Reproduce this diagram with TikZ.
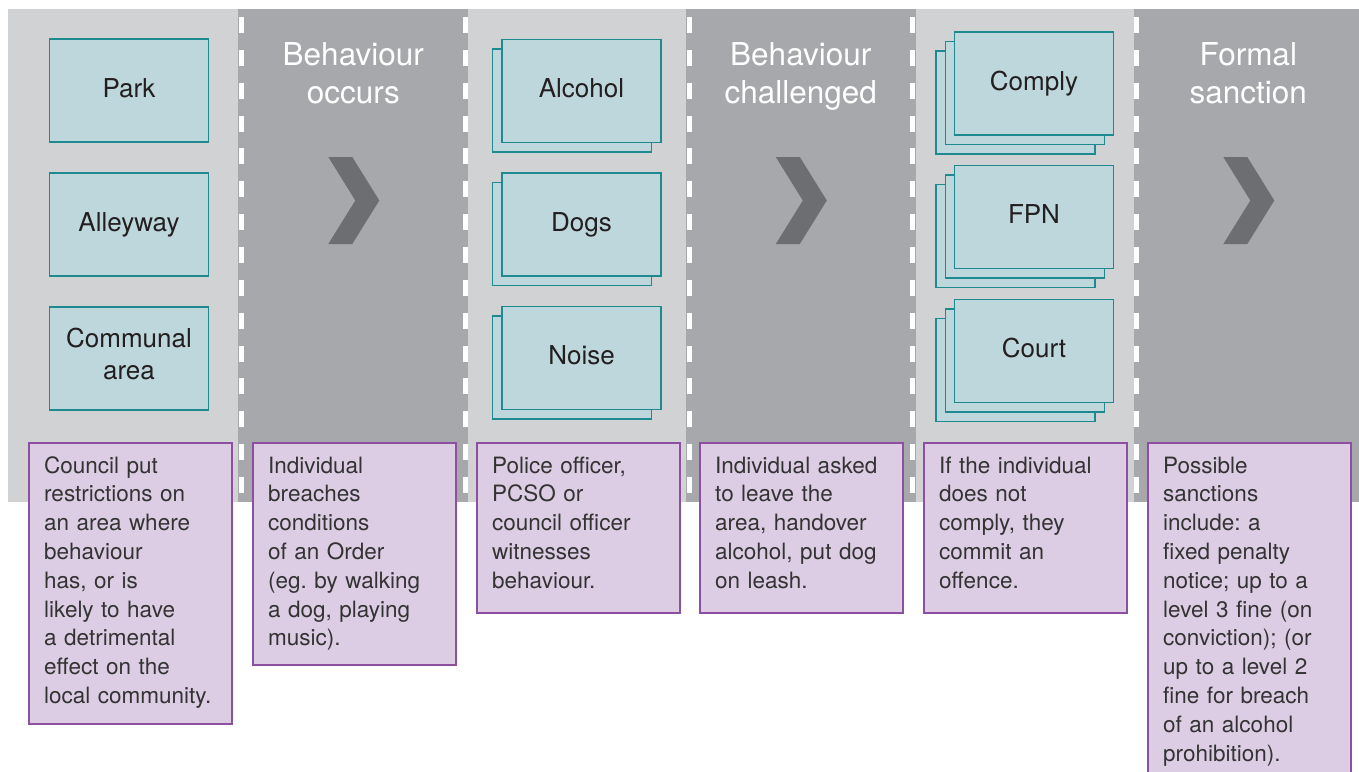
\documentclass[tikz,border=0pt]{standalone}
\usepackage{fontspec}
\setmainfont{TeX Gyre Heros}
\definecolor{bandlight}{HTML}{D1D2D4}
\definecolor{banddark}{HTML}{A7A8AB}
\definecolor{chev}{HTML}{6D6E71}
\definecolor{tealfill}{HTML}{BDD7DC}
\definecolor{tealline}{HTML}{1E8A8F}
\definecolor{purfill}{HTML}{DCCDE4}
\definecolor{purline}{HTML}{8E4FA0}
\definecolor{txtdark}{HTML}{231F20}
\definecolor{txtgray}{HTML}{333333}
\frenchspacing
\begin{document}
\begin{tikzpicture}[x=1pt,y=-1pt,
  backbox/.style={draw=tealline, fill=tealfill, line width=1.3pt, minimum width=159pt, minimum height=103pt, inner sep=0pt},
  tealbox/.style={backbox, font=\fontsize{26}{32}\selectfont, text=txtdark, text height=18pt, text depth=5pt},
  purbox/.style={draw=purline, fill=purfill, line width=1.5pt, minimum width=203pt, anchor=north west, inner sep=0pt},
  purtext/.style={anchor=base west, inner sep=0pt, text width=185pt, align=left, font=\fontsize{22.5}{28.8}\selectfont\frenchspacing, text=txtgray},
  head/.style={anchor=base, inner sep=0pt, text width=220pt, align=center, font=\fontsize{31.5}{38}\selectfont, text=white},
  dashline/.style={white, line width=5pt, dash pattern=on 16pt off 16.85pt}
]
\useasboundingbox (0,0) rectangle (1359,771);
% background band
\fill[bandlight] (8,9) rectangle (1359,502);
\fill[banddark] (238,9) rectangle (468,502);
\fill[banddark] (686,9) rectangle (916,502);
\fill[banddark] (1134,9) rectangle (1359,502);
% dashed separators
\foreach \xx in {241.5,465,689.5,912.5,1136.5}
  \draw[dashline] (\xx,17) -- (\xx,502);
% chevrons
\foreach \c in {353.3,800.8,1248.3}
  \fill[chev] (\c-25,157) -- (\c-1,157) -- (\c+26,200.5) -- (\c-1,244) -- (\c-25,244) -- (\c+2,200.5) -- cycle;
% headers
\node[head] (h1) at (353.3,65) {Behaviour\\occurs};
\node[head] (h2) at (800.8,65) {Behaviour\\challenged};
\node[head] (h3) at (1248.3,65) {Formal\\sanction};
% column 1
\node[tealbox] (park) at (129,90.5) {Park};
\node[tealbox] (alley) at (129,224.5) {Alleyway};
\node[tealbox, text height=18pt, text depth=41pt, text width=150pt, align=center] (communal) at (129,358.5) {Communal\\area};
% column 3
\node[backbox] (alcB) at (572,100.5) {};
\node[tealbox] (alc) at (581.5,91) {Alcohol};
\node[backbox] (dogB) at (572,234) {};
\node[tealbox] (dog) at (581.5,224.5) {Dogs};
\node[backbox] (noiB) at (572,367.5) {};
\node[tealbox] (noi) at (581.5,358) {Noise};
% column 5
\node[backbox] (comC) at (1015.4,102.5) {};
\node[backbox] (comB) at (1024.7,93) {};
\node[tealbox] (com) at (1034,83.5) {Comply};
\node[backbox] (fpnC) at (1015.4,236) {};
\node[backbox] (fpnB) at (1024.7,226.5) {};
\node[tealbox] (fpn) at (1034,217) {FPN};
\node[backbox] (couC) at (1015.4,370) {};
\node[backbox] (couB) at (1024.7,360.5) {};
\node[tealbox] (cou) at (1034,351) {Court};
% description boxes
\node[purbox, minimum height=281pt] (d1) at (28,442) {};
\node[purbox, minimum height=222pt] (d2) at (252,442) {};
\node[purbox, minimum height=170pt] (d3) at (476,442) {};
\node[purbox, minimum height=170pt] (d4) at (699,442) {};
\node[purbox, minimum height=170pt] (d5) at (923,442) {};
\node[purbox, minimum height=331pt] (d6) at (1147,442) {};
\node[purtext] (t1) at (44,473) {Council put\\restrictions on\\an area where\\behaviour\\has, or is\\likely to have\\a detrimental\\effect on the\\local community.};
\node[purtext] (t2) at (268,473) {Individual\\breaches\\conditions\\of an Order\\(eg. by walking\\a dog, playing\\music).};
\node[purtext] (t3) at (492,473) {Police officer,\\PCSO or\\council officer\\witnesses\\behaviour.};
\node[purtext] (t4) at (715,473) {Individual asked\\to leave the\\area, handover\\alcohol, put dog\\on leash.};
\node[purtext] (t5) at (939,473) {If the individual\\does not\\comply, they\\commit an\\offence.};
\node[purtext] (t6) at (1163,473) {Possible\\sanctions\\include: a\\fixed penalty\\notice; up to a\\level 3 fine (on\\conviction); (or\\up to a level 2\\fine for breach\\of an alcohol\\prohibition).};
\end{tikzpicture}
\end{document}
